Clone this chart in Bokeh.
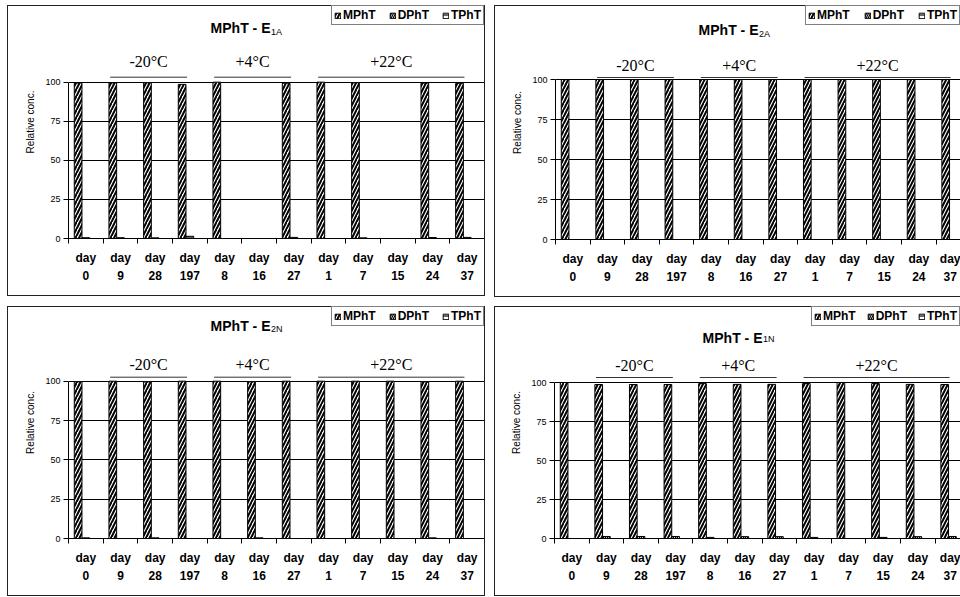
from bokeh.plotting import figure
from bokeh.models import (ColumnDataSource, FixedTicker, Range1d, Label,
                          Legend, LegendItem)
from bokeh.layouts import row, column
from bokeh.transform import dodge
from bokeh.embed import file_html
from bokeh.resources import INLINE

nan = float("nan")

# ---------------- data ----------------
days = ["0", "9", "28", "197", "8", "16", "27", "1", "7", "15", "24", "37"]
series = ["MPhT", "DPhT", "TPhT"]
groups = ["-20°C", "+4°C", "+22°C"]
group_first = [1, 4, 7]
group_last = [3, 6, 11]
y_ticks = [0, 25, 50, 75, 100]
y_grid = [25, 50, 75, 100]

e1a_mpht = [99.5, 99.5, 99.6, 98.6, 100.0, nan, 99.3, 100.0, 99.6, nan, 99.4, 99.3]
e1a_dpht = [0.5, 0.5, 0.4, 1.4, 0.0, nan, 0.7, 0.0, 0.4, nan, 0.6, 0.7]
e1a_tpht = [0.0, 0.0, 0.0, 0.0, 0.0, nan, 0.0, 0.0, 0.0, nan, 0.0, 0.0]

e2a_mpht = [100.0, 100.0, 100.0, 100.0, 100.0, 100.0, 100.0, 100.0, 100.0, 100.0, 100.0, 100.0]
e2a_dpht = [0.0, 0.0, 0.0, 0.0, 0.0, 0.0, 0.0, 0.0, 0.0, 0.0, 0.0, 0.0]
e2a_tpht = [0.0, 0.0, 0.0, 0.0, 0.0, 0.0, 0.0, 0.0, 0.0, 0.0, 0.0, 0.0]

e2n_mpht = [99.6, 100.0, 99.6, 100.0, 100.0, 99.6, 100.0, 100.0, 100.0, 100.0, 99.6, 100.0]
e2n_dpht = [0.4, 0.0, 0.4, 0.0, 0.0, 0.4, 0.0, 0.0, 0.0, 0.0, 0.4, 0.0]
e2n_tpht = [0.0, 0.0, 0.0, 0.0, 0.0, 0.0, 0.0, 0.0, 0.0, 0.0, 0.0, 0.0]

e1n_mpht = [100.0, 98.7, 98.7, 98.7, 99.3, 98.8, 98.8, 99.3, 100.0, 99.3, 98.8, 98.7]
e1n_dpht = [0.0, 1.3, 1.3, 1.3, 0.7, 1.2, 1.2, 0.7, 0.0, 0.7, 1.2, 1.3]
e1n_tpht = [0.0, 0.0, 0.0, 0.0, 0.0, 0.0, 0.0, 0.0, 0.0, 0.0, 0.0, 0.0]

# ---------------- layout / style per panel ----------------
panels = [
    dict(sub="1A", m=e1a_mpht, d=e1a_dpht, t=e1a_tpht, W=478, H=291, fl=61, fr=1, y100=77, y0=234,
         cat_px=34.67, title_x=202, title_base=22.5, sub_base=27, temp_base=56, line_y=72,
         leg_sp=13, margin=(5, 9, 0, 7), border_right=True),
    dict(sub="2A", m=e2a_mpht, d=e2a_dpht, t=e2a_tpht, W=466, H=292, fl=61, fr=0, y100=74, y0=234,
         cat_px=34.6, title_x=203, title_base=24, sub_base=28, temp_base=60, line_y=72,
         leg_sp=14, margin=(5, 0, 0, 0), border_right=False),
    dict(sub="2N", m=e2n_mpht, d=e2n_dpht, t=e2n_tpht, W=478, H=290, fl=61, fr=1, y100=75, y0=233,
         cat_px=34.67, title_x=202, title_base=20, sub_base=23, temp_base=58.5, line_y=71,
         leg_sp=13, margin=(9, 9, 0, 7), border_right=True),
    dict(sub="1N", m=e1n_mpht, d=e1n_dpht, t=e1n_tpht, W=466, H=290, fl=60, fr=0, y100=76, y0=232,
         cat_px=34.6, title_x=208, title_base=31.5, sub_base=32.5, temp_base=59, line_y=71,
         leg_sp=11, margin=(9, 0, 0, 0), border_right=False),
]

hatches = ["/", "\\", "-"]
BW = 1.0 / 4.5
offsets = [-BW, 0.0, BW]
SANS = "Liberation Sans"
SERIF = "Liberation Serif"
EDGE = "#222222"


def build(cfg):
    W, H, fl, fr, y100, y0 = cfg["W"], cfg["H"], cfg["fl"], cfg["fr"], cfg["y100"], cfg["y0"]
    frame_w = W - fl - fr
    x_end = frame_w / cfg["cat_px"]
    ppu = (y0 - y100) / 100.0
    y_end = y0 / ppu

    def dy(px):
        return (y0 - px) / ppu

    p = figure(width=W, height=H, x_range=Range1d(0, x_end), y_range=Range1d(0, y_end),
               output_backend="svg", toolbar_location=None,
               min_border_left=fl, min_border_right=fr, min_border_top=0,
               min_border_bottom=H - y0,
               background_fill_color=None, border_fill_color=None,
               outline_line_color=None)
    p.margin = cfg["margin"]
    shadows = ["inset 1px 0 0 " + EDGE, "inset 0 1px 0 " + EDGE, "inset 0 -1px 0 " + EDGE]
    if cfg["border_right"]:
        shadows.append("inset -1px 0 0 " + EDGE)
    p.styles = {"box-shadow": ", ".join(shadows), "background-color": "white"}

    n = len(days)
    centers = [i + 0.5 for i in range(n)]
    src = ColumnDataSource(dict(xc=centers, s0=cfg["m"], s1=cfg["d"], s2=cfg["t"]))

    renderers = []
    for k, (name, hp, off) in enumerate(zip(series, hatches, offsets)):
        r = p.vbar(x=dodge("xc", off), top="s%d" % k, width=BW, bottom=0, source=src,
                   fill_color="white", line_color="black", line_width=1,
                   hatch_pattern=hp, hatch_color="black",
                   hatch_weight=2 if k == 0 else 1.2,
                   hatch_scale=7 if k == 0 else 4)
        renderers.append(r)

    # group lines + labels
    gx0 = [f + 0.2 for f in group_first]
    gx1 = [l + 0.42 for l in group_last]
    p.segment(x0=gx0, x1=gx1, y0=dy(cfg["line_y"]), y1=dy(cfg["line_y"]),
              line_color="#333333", line_width=1)
    for g, a, b in zip(groups, gx0, gx1):
        p.add_layout(Label(x=(a + b) / 2, y=dy(cfg["temp_base"]), text=g,
                           text_align="center", text_baseline="alphabetic",
                           text_font=SERIF, text_font_size="16px", text_color="black"))

    # title with subscript
    p.add_layout(Label(x=cfg["title_x"], x_units="screen", y=dy(cfg["title_base"]),
                       text="MPhT - E", text_align="right", text_baseline="alphabetic",
                       text_font=SANS, text_font_style="bold", text_font_size="14px",
                       text_color="black"))
    p.add_layout(Label(x=cfg["title_x"] + 0.5, x_units="screen", y=dy(cfg["sub_base"]),
                       text=cfg["sub"], text_align="left", text_baseline="alphabetic",
                       text_font=SANS, text_font_size="9px", text_color="black"))

    # axes
    xa = p.xaxis[0]
    xa.ticker = FixedTicker(ticks=centers, minor_ticks=list(range(n + 1)))
    xa.major_label_overrides = {c: "day\n" + d for c, d in zip(centers, days)}
    xa.bounds = (0, n)
    xa.major_tick_out = 0
    xa.major_tick_in = 0
    xa.minor_tick_out = 5
    xa.minor_tick_in = 0
    xa.minor_tick_line_color = "black"
    xa.axis_line_color = "black"
    xa.major_label_standoff = 7
    xa.major_label_text_font = SANS
    xa.major_label_text_font_style = "bold"
    xa.major_label_text_font_size = "12px"
    xa.major_label_text_line_height = 1.3
    xa.major_label_text_color = "black"

    ya = p.yaxis[0]
    ya.ticker = FixedTicker(ticks=y_ticks)
    ya.bounds = (0, 100)
    ya.major_tick_out = 5
    ya.major_tick_in = 0
    ya.minor_tick_line_color = None
    ya.axis_line_color = "black"
    ya.major_tick_line_color = "black"
    ya.major_label_standoff = 3
    ya.major_label_text_font = SANS
    ya.major_label_text_font_size = "9px"
    ya.major_label_text_color = "black"
    ya.axis_label = "Relative conc."
    ya.axis_label_text_font = SANS
    ya.axis_label_text_font_style = "normal"
    ya.axis_label_text_font_size = "10px"
    ya.axis_label_text_color = "black"
    ya.axis_label_standoff = 6

    p.xgrid.grid_line_color = None
    p.ygrid.ticker = FixedTicker(ticks=y_grid)
    p.ygrid.grid_line_color = "black"
    p.ygrid.grid_line_width = 1

    # legend (top right corner of the chart area)
    leg = Legend(items=[LegendItem(label=s, renderers=[r]) for s, r in zip(series, renderers)],
                 orientation="horizontal", location="top_right",
                 padding=2, spacing=cfg["leg_sp"], margin=0, glyph_width=7, glyph_height=7,
                 label_standoff=2, label_height=12, label_width=10,
                 label_text_font=SANS, label_text_font_style="bold", label_text_font_size="12px",
                 label_text_color="black",
                 border_line_color="black", border_line_width=1,
                 background_fill_color="white", background_fill_alpha=1.0)
    p.add_layout(leg)
    return p


figs = [build(c) for c in panels]
layout = column(row(figs[0], figs[1]), row(figs[2], figs[3]))

open("out.html", "w").write(file_html(layout, INLINE))
